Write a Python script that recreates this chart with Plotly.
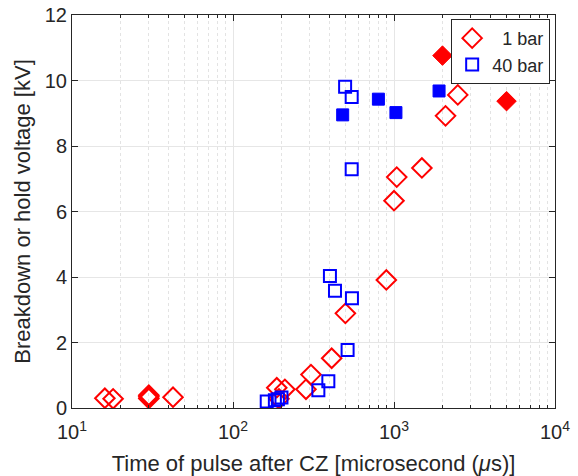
import plotly.graph_objects as go

# 1 bar (open diamonds)
bar1_t = [16, 18, 30, 30, 30, 42.4, 187, 193, 210, 284, 305, 410, 499, 896, 1000, 1040, 1490, 2090, 2490]
bar1_v = [0.30, 0.28, 0.29, 0.34, 0.39, 0.33, 0.62, 0.28, 0.57, 0.57, 1.02, 1.52, 2.89, 3.91, 6.33, 7.05, 7.33, 8.92, 9.56]
# 1 bar (filled diamonds)
bar1f_t = [2000, 5000]
bar1f_v = [10.76, 9.37]
# 40 bar (open squares)
bar40_t = [162, 182, 190, 200, 339, 391, 400, 430, 515, 548, 497, 546, 546]
bar40_v = [0.20, 0.24, 0.27, 0.32, 0.54, 0.82, 4.03, 3.58, 1.77, 3.35, 9.81, 9.50, 7.29]
# 40 bar (filled squares)
bar40f_t = [480, 800, 1028, 1905]
bar40f_v = [8.95, 9.43, 9.02, 9.68]

xtick_vals = [10, 100, 1000, 10000]
xtick_text = ["10<sup>1</sup>", "10<sup>2</sup>", "10<sup>3</sup>", "10<sup>4</sup>"]
ytick_vals = [0, 2, 4, 6, 8, 10, 12]
minor_vals = [m * d for d in (10, 100, 1000) for m in range(2, 10)]

RED = "#ff0000"
BLUE = "#0000ff"
TXT = "#262626"
FONT = "Liberation Sans, Arial, sans-serif"

fig = go.Figure()
fig.add_trace(go.Scatter(x=bar1_t, y=bar1_v, mode="markers", name="\u20071 bar",
                         marker=dict(symbol="diamond-open", size=15, color=RED, line=dict(width=2, color=RED))))
fig.add_trace(go.Scatter(x=bar1f_t, y=bar1f_v, mode="markers", name="1 bar filled", showlegend=False,
                         marker=dict(symbol="diamond", size=15, color=RED, line=dict(width=1, color=RED))))
fig.add_trace(go.Scatter(x=bar40_t, y=bar40_v, mode="markers", name="40 bar",
                         marker=dict(symbol="square-open", size=12, color=BLUE, line=dict(width=2, color=BLUE))))
fig.add_trace(go.Scatter(x=bar40f_t, y=bar40f_v, mode="markers", name="40 bar filled", showlegend=False,
                         marker=dict(symbol="square", size=12, color=BLUE, line=dict(width=1, color=BLUE))))

fig.update_layout(
    width=578, height=476,
    margin=dict(l=72, r=23, t=15, b=68, autoexpand=False),
    paper_bgcolor="white", plot_bgcolor="white",
    font=dict(family=FONT, size=20, color=TXT),
    legend=dict(x=0.99, y=0.99, xanchor="right", yanchor="top",
                bordercolor=TXT, borderwidth=1, bgcolor="white",
                font=dict(family=FONT, size=18, color=TXT), itemwidth=30, tracegroupgap=0),
)
fig.update_xaxes(
    type="log", range=[1, 4], automargin=False,
    tickvals=xtick_vals, ticktext=xtick_text, ticklabelstandoff=6,
    ticks="inside", ticklen=6, tickcolor=TXT, tickwidth=1,
    showline=True, linecolor=TXT, linewidth=1, mirror="ticks",
    showgrid=True, gridcolor="#e6e6e6", gridwidth=1,
    minor=dict(tickvals=minor_vals, ticks="inside", ticklen=3, tickcolor=TXT, showgrid=True,
               gridcolor="#e3e3e3", griddash="dot", gridwidth=1),
    title=dict(text="Time of pulse after CZ [microsecond (<i>μ</i>s)]", font=dict(family=FONT, size=22, color=TXT), standoff=14),
    tickfont=dict(family=FONT, size=20, color=TXT),
    zeroline=False,
)
fig.update_yaxes(
    range=[0, 12], tickvals=ytick_vals, automargin=False,
    ticks="inside", ticklen=6, tickcolor=TXT, tickwidth=1,
    showline=True, linecolor=TXT, linewidth=1, mirror="ticks",
    showgrid=True, gridcolor="#e6e6e6", gridwidth=1,
    title=dict(text="Breakdown or hold voltage [kV]", font=dict(family=FONT, size=22, color=TXT), standoff=8),
    tickfont=dict(family=FONT, size=20, color=TXT),
    zeroline=False,
)

fig.write_html("out.html", config={"displayModeBar": False},
               post_script="document.body.style.margin='0';document.body.style.padding='0';")
